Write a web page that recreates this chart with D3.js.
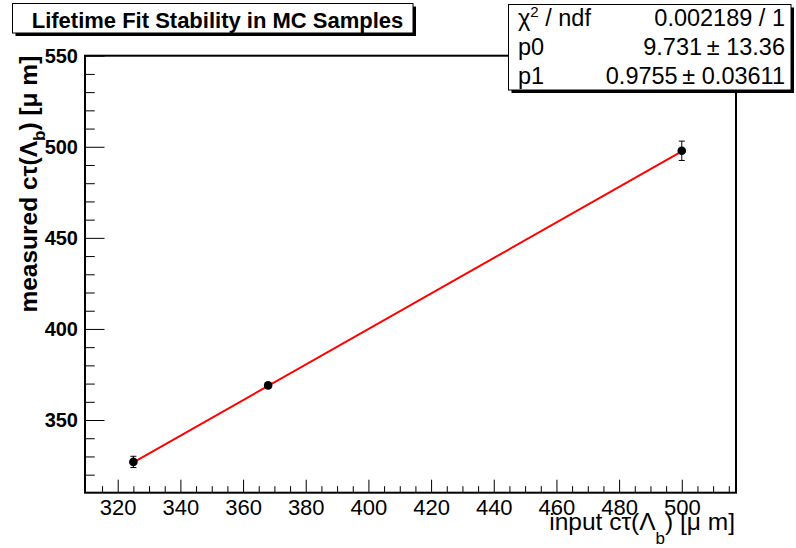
<!DOCTYPE html>
<html>
<head>
<meta charset="utf-8">
<script src="https://cdn.jsdelivr.net/npm/d3@7"></script>
<style>
  html, body { margin: 0; padding: 0; background: #fff; }
  svg { display: block; font-family: "Liberation Sans", Arial, Helvetica, sans-serif; }
</style>
</head>
<body>
<svg id="chart" width="796" height="548"></svg>
<script>
// ---- data ----
const inputCt = [325, 368, 500];
const measuredCt = [327.0, 369.0, 497.8];
const measuredErr = [3.1, 1.4, 5.3];
const fitP0 = 9.731;
const fitP1 = 0.9755;
const fitRange = [325, 500];
const xTicks = [320, 340, 360, 380, 400, 420, 440, 460, 480, 500];
const yTicks = [350, 400, 450, 500, 550];
const titleText = "Lifetime Fit Stability in MC Samples";
const statLabels = ["χ2 / ndf", "p0", "p1"];
const statValues = ["0.002189 / 1", "9.731\u2009± 13.36", "0.9755\u2009± 0.03611"];

// ---- layout ----
const W = 796, H = 548;
const plot = { left: 85, right: 736, top: 55.7, bottom: 492.7 };
const svg = d3.select("#chart");
svg.append("rect").attr("width", W).attr("height", H).attr("fill", "#fff");

const x = d3.scaleLinear().domain([309.56, 517.3]).range([plot.left, plot.right]);
const y = d3.scaleLinear().domain([310.1, 550]).range([plot.bottom, plot.top]);

const xMinor = d3.range(315, 517.3, 5).filter(v => !xTicks.includes(v));
const yMinor = d3.range(320, 550, 10).filter(v => !yTicks.includes(v));

const gxMinor = svg.append("g").attr("transform", `translate(0,${plot.bottom})`)
  .call(d3.axisBottom(x).tickValues(xMinor).tickSize(-6.5).tickFormat(""));
gxMinor.select(".domain").remove();
const gx = svg.append("g").attr("transform", `translate(0,${plot.bottom})`)
  .call(d3.axisBottom(x).tickValues(xTicks).tickSize(-13).tickPadding(6.6).tickFormat(d3.format("d")));
gx.select(".domain").remove();
gx.selectAll("text").attr("font-size", 22).attr("font-family", "Liberation Sans, Arial, sans-serif").attr("fill", "#000");

const gyMinor = svg.append("g").attr("transform", `translate(${plot.left},0)`)
  .call(d3.axisLeft(y).tickValues(yMinor).tickSize(-9.75).tickFormat(""));
gyMinor.select(".domain").remove();
const gy = svg.append("g").attr("transform", `translate(${plot.left},0)`)
  .call(d3.axisLeft(y).tickValues(yTicks).tickSize(-19.5).tickPadding(7).tickFormat(d3.format("d")));
gy.select(".domain").remove();
gy.selectAll("text").attr("font-size", 20).attr("font-weight", "bold").attr("font-family", "Liberation Sans, Arial, sans-serif").attr("fill", "#000");

svg.selectAll(".tick line").attr("stroke", "#000").attr("stroke-width", 1);

// frame
svg.append("rect")
  .attr("x", plot.left).attr("y", plot.top)
  .attr("width", plot.right - plot.left).attr("height", plot.bottom - plot.top)
  .attr("fill", "none").attr("stroke", "#000").attr("stroke-width", 2);

// fit line
svg.append("line")
  .attr("x1", x(fitRange[0])).attr("y1", y(fitP0 + fitP1 * fitRange[0]))
  .attr("x2", x(fitRange[1])).attr("y2", y(fitP0 + fitP1 * fitRange[1]))
  .attr("stroke", "#ff0000").attr("stroke-width", 2);

// data points
const pts = inputCt.map((v, i) => ({ x: v, y: measuredCt[i], e: measuredErr[i] }));
const gp = svg.append("g");
pts.forEach(p => {
  const cx = x(p.x), y1 = y(p.y - p.e), y2 = y(p.y + p.e);
  gp.append("line").attr("x1", cx).attr("x2", cx).attr("y1", y1).attr("y2", y2).attr("stroke", "#000").attr("stroke-width", 1);
  gp.append("line").attr("x1", cx - 3).attr("x2", cx + 3).attr("y1", y1).attr("y2", y1).attr("stroke", "#000").attr("stroke-width", 1);
  gp.append("line").attr("x1", cx - 3).attr("x2", cx + 3).attr("y1", y2).attr("y2", y2).attr("stroke", "#000").attr("stroke-width", 1);
  gp.append("circle").attr("cx", cx).attr("cy", y(p.y)).attr("r", 4.3).attr("fill", "#000");
});

// axis titles
const xt = svg.append("text")
  .attr("x", plot.right - 1).attr("y", 529.5)
  .attr("text-anchor", "end").attr("font-size", 24.5).attr("fill", "#000");
xt.append("tspan").text("input cτ(Λ");
xt.append("tspan").attr("font-size", 17).attr("dy", 14).text("b");
xt.append("tspan").attr("dy", -14).text(") [μ m]");

const yt = svg.append("text")
  .attr("transform", `translate(36.7,${plot.top}) rotate(-90)`)
  .attr("text-anchor", "end").attr("font-size", 24.5).attr("font-weight", "bold").attr("fill", "#000");
yt.append("tspan").text("measured cτ(Λ");
yt.append("tspan").attr("font-size", 17).attr("dy", 8).text("b");
yt.append("tspan").attr("dy", -8).text(") [μ m]");

// panes with shadow
function pave(x0, y0, x1, y1) {
  svg.append("rect").attr("x", x0 + 3).attr("y", y0 + 3).attr("width", x1 - x0).attr("height", y1 - y0).attr("fill", "#000");
  svg.append("rect").attr("x", x0).attr("y", y0).attr("width", x1 - x0).attr("height", y1 - y0)
    .attr("fill", "#fff").attr("stroke", "#000").attr("stroke-width", 1);
}
pave(12.5, 3.5, 413, 33);
svg.append("text").attr("x", 31.7).attr("y", 28)
  .attr("font-size", 22).attr("font-weight", "bold").attr("fill", "#000").text(titleText);

// stats box
pave(508.5, 4.5, 791, 90);
const rowY = [25.5, 54.5, 83.5];
statLabels.forEach((t, i) => {
  const tx = svg.append("text").attr("x", 518).attr("y", rowY[i]).attr("font-size", 23.5).attr("fill", "#000");
  if (i === 0) {
    tx.append("tspan").text("χ");
    tx.append("tspan").attr("font-size", 15).attr("dy", -9).text("2");
    tx.append("tspan").attr("dy", 9).text(" / ndf");
  } else {
    tx.text(t);
  }
  svg.append("text").attr("x", 785).attr("y", rowY[i]).attr("text-anchor", "end")
    .attr("font-size", 23.5).attr("fill", "#000").text(statValues[i]);
});
</script>
</body>
</html>
